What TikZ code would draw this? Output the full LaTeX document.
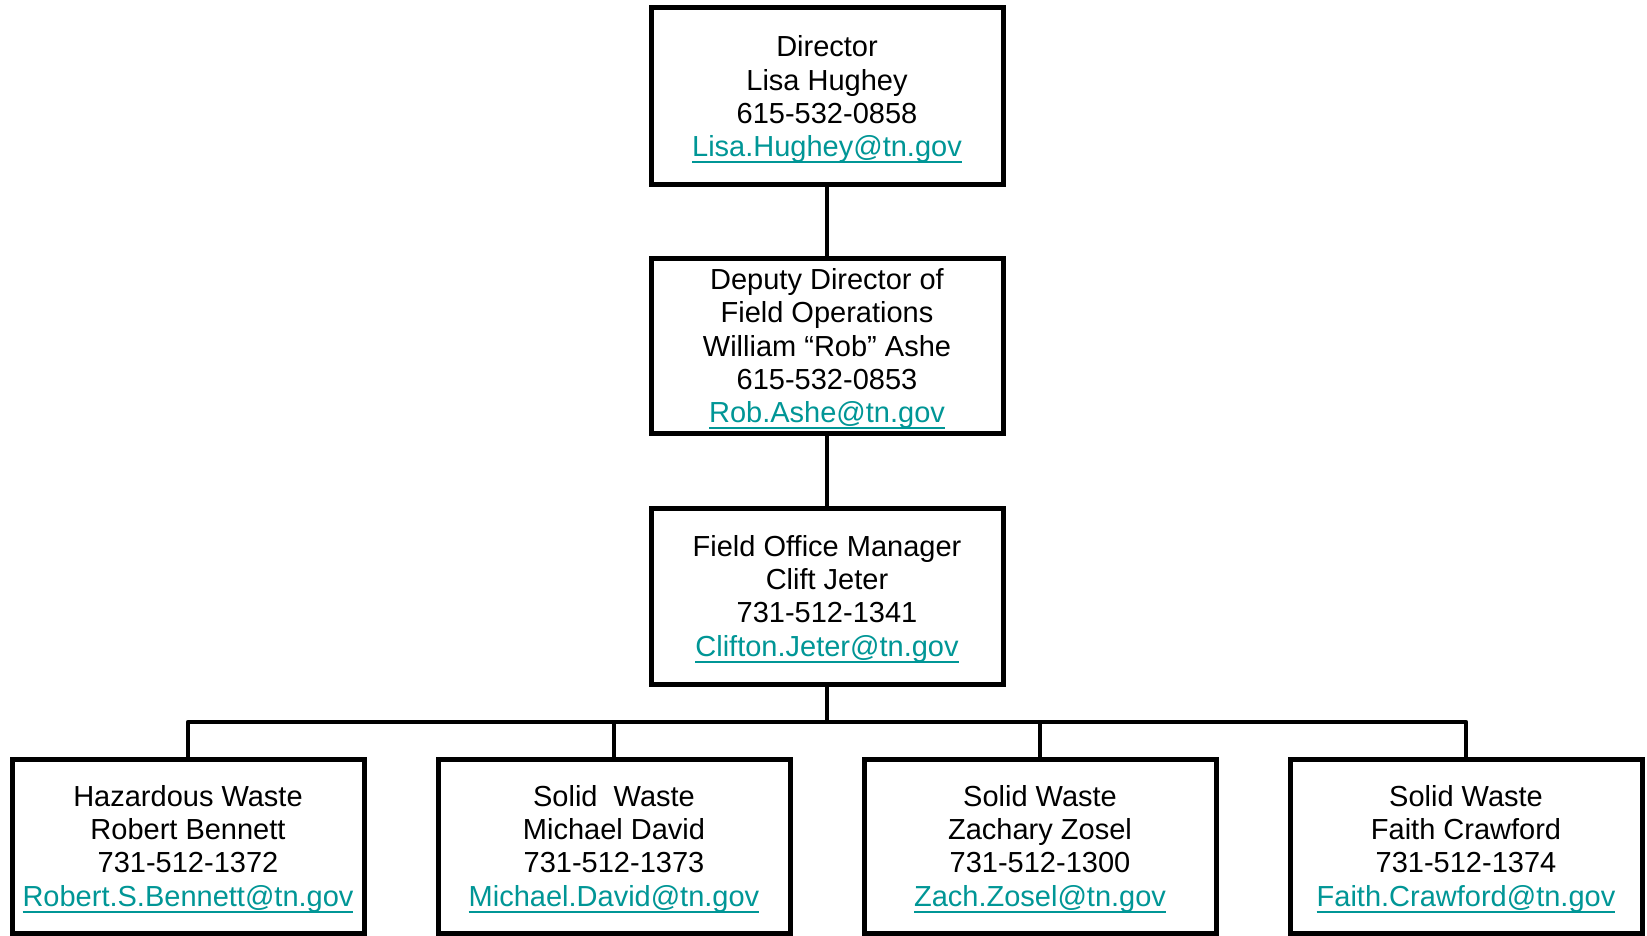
\documentclass[tikz,border=0pt]{standalone}
\usepackage{fontspec}
\setmainfont{Liberation Sans}
\definecolor{mail}{RGB}{0,150,150}
\newcommand\mailline[1]{\textcolor{mail}{\setbox0\hbox{#1}\rlap{\rule[-6.7pt]{\wd0}{2pt}}\box0}}
\begin{document}
\begin{tikzpicture}[x=1pt,y=-1pt,
  box/.style={draw, line width=5pt, minimum width=352pt, minimum height=176pt, inner sep=0pt},
  txt/.style={align=center, font=\fontsize{29}{33.3}\selectfont, inner sep=0pt},
  link/.style={line width=4.5pt, line join=round}]
\useasboundingbox[fill=white] (0,0) rectangle (1647,936);
% boxes
\node[box, minimum height=177pt] (dir) at (827,96.5) {};
\node[box, minimum height=174pt] (dep) at (827,346) {};
\node[box, minimum height=176pt] (mgr) at (827,596) {};
\node[box, minimum height=174pt] (hw) at (188,846) {};
\node[box, minimum height=174pt] (sw1) at (614,846) {};
\node[box, minimum height=174pt] (sw2) at (1040,846) {};
\node[box, minimum height=174pt] (fc) at (1466,846) {};
% texts
\node[txt] (dirt) at (827,99.5) {Director\\Lisa Hughey\\615-532-0858\\\mailline{Lisa.Hughey@tn.gov}};
\node[txt] (dept) at (827,349) {Deputy Director of\\Field Operations\\William “Rob” Ashe\\615-532-0853\\\mailline{Rob.Ashe@tn.gov}};
\node[txt] (mgrt) at (827,599) {Field Office Manager\\Clift Jeter\\731-512-1341\\\mailline{Clifton.Jeter@tn.gov}};
\node[txt] (hwt) at (188,849) {Hazardous Waste\\Robert Bennett\\731-512-1372\\\mailline{Robert.S.Bennett@tn.gov}};
\node[txt] (sw1t) at (614,849) {Solid\ \ Waste\\Michael David\\731-512-1373\\\mailline{Michael.David@tn.gov}};
\node[txt] (sw2t) at (1040,849) {Solid Waste\\Zachary Zosel\\731-512-1300\\\mailline{Zach.Zosel@tn.gov}};
\node[txt] (fct) at (1466,849) {Solid Waste\\Faith Crawford\\731-512-1374\\\mailline{Faith.Crawford@tn.gov}};
% connectors
\coordinate (bus) at (827,722);
\draw[link] (dir.south) -- (dep.north);
\draw[link] (dep.south) -- (mgr.north);
\draw[link] (mgr.south) -- (bus);
\draw[link] (hw.north) -- (hw.north |- bus) -- (fc.north |- bus) -- (fc.north);
\draw[link] (sw1.north) -- (sw1.north |- bus);
\draw[link] (sw2.north) -- (sw2.north |- bus);
\end{tikzpicture}
\end{document}
